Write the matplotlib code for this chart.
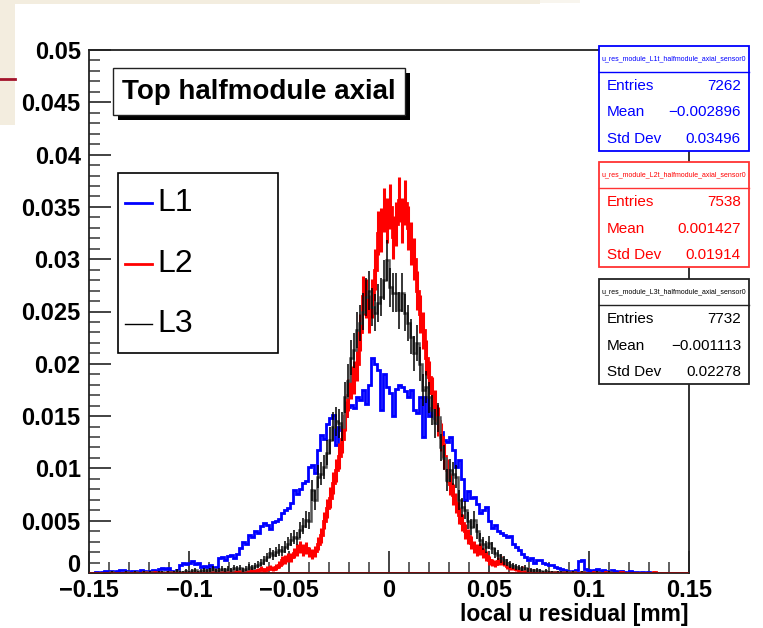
import numpy as np
import matplotlib
matplotlib.use("Agg")
import matplotlib.pyplot as plt
import matplotlib.transforms as mtransforms
from matplotlib.patches import Rectangle
from matplotlib.lines import Line2D

plt.rcParams['font.family'] = ['Liberation Sans', 'DejaVu Sans']

# 200 bins from -0.15 to 0.15, normalised bin contents in units of 1e-4
x_lo, x_hi, n_bins = -0.15, 0.15, 200

L1 = [0, 0, 1, 0, 1, 2, 1, 2, 1, 2,
      3, 3, 2, 1, 2, 2, 1, 3, 2, 1,
      2, 3, 2, 4, 5, 4, 5, 2, 1, 3,
      8, 10, 9, 10, 11, 9, 10, 6, 7, 6,
      8, 5, 6, 14, 15, 12, 16, 17, 14, 18,
      24, 30, 28, 36, 34, 40, 38, 45, 48, 46,
      42, 49, 50, 52, 57, 60, 62, 67, 79, 76,
      80, 86, 88, 101, 103, 96, 118, 132, 128, 142,
      148, 151, 122, 140, 137, 150, 159, 161, 158, 168,
      165, 175, 162, 180, 206, 200, 194, 156, 190, 178,
      172, 150, 176, 180, 178, 174, 168, 175, 156, 153,
      168, 130, 168, 150, 158, 148, 143, 135, 127, 125,
      130, 118, 101, 108, 90, 70, 78, 72, 73, 66,
      57, 60, 63, 50, 43, 46, 40, 38, 36, 34,
      35, 28, 25, 22, 18, 15, 12, 14, 10, 12,
      12, 10, 9, 8, 8, 6, 5, 4, 3, 2,
      1, 2, 3, 11, 12, 4, 3, 2, 3, 4,
      2, 3, 2, 1, 3, 2, 1, 2, 1, 0,
      2, 1, 1, 0, 1, 0, 1, 0, 0, 0,
      0, 0, 0, 0, 0, 0, 0, 0, 0, 0]

L2 = [0, 0, 0, 0, 0, 0, 0, 0, 0, 0,
      0, 0, 0, 0, 0, 0, 0, 0, 1, 0,
      0, 1, 0, 1, 0, 0, 1, 0, 1, 1,
      0, 0, 1, 0, 1, 0, 1, 1, 0, 1,
      2, 3, 2, 1, 1, 2, 1, 2, 1, 2,
      2, 1, 2, 3, 2, 2, 3, 4, 3, 4,
      5, 4, 6, 8, 12, 13, 15, 15, 19, 22,
      25, 22, 24, 20, 18, 21, 28, 36, 50, 62,
      72, 86, 98, 112, 128, 150, 170, 182, 187, 200,
      230, 265, 262, 248, 262, 290, 325, 328, 347, 337,
      350, 321, 334, 357, 337, 354, 330, 315, 300, 270,
      248, 232, 206, 187, 172, 160, 145, 130, 112, 98,
      85, 75, 67, 55, 48, 40, 35, 29, 25, 22,
      23, 19, 16, 12, 10, 9, 11, 12, 10, 7,
      6, 5, 4, 3, 4, 2, 3, 2, 2, 1,
      1, 0, 1, 1, 0, 1, 0, 0, 1, 0,
      0, 1, 0, 0, 1, 0, 0, 0, 1, 0,
      0, 0, 1, 0, 0, 0, 0, 1, 0, 0,
      0, 0, 0, 0, 0, 0, 0, 0, 1, 0,
      0, 0, 0, 0, 0, 0, 0, 0, 0, 0]

L3 = [0, 0, 0, 0, 0, 0, 0, 1, 0, 0,
      0, 0, 1, 0, 0, 1, 0, 0, 1, 0,
      1, 0, 0, 1, 1, 0, 1, 0, 1, 2,
      1, 1, 2, 1, 2, 3, 1, 2, 3, 2,
      3, 4, 2, 3, 4, 3, 4, 3, 5, 4,
      5, 3, 4, 6, 5, 7, 8, 10, 12, 15,
      19, 17, 20, 22, 21, 25, 28, 32, 34, 33,
      41, 45, 51, 50, 79, 70, 92, 95, 101, 115,
      127, 140, 145, 143, 140, 168, 184, 206, 213, 232,
      239, 250, 264, 270, 254, 249, 258, 264, 280, 299,
      273, 268, 268, 251, 268, 249, 239, 226, 210, 220,
      200, 175, 178, 168, 156, 143, 149, 120, 110, 89,
      98, 95, 92, 70, 63, 60, 50, 44, 51, 40,
      32, 28, 25, 29, 24, 19, 17, 14, 12, 10,
      8, 7, 6, 5, 4, 5, 3, 3, 2, 3,
      2, 1, 2, 1, 1, 0, 1, 1, 0, 1,
      0, 1, 0, 0, 1, 0, 0, 0, 0, 1,
      0, 0, 0, 1, 0, 0, 0, 0, 0, 0,
      0, 0, 0, 0, 0, 0, 0, 0, 0, 0,
      0, 0, 0, 0, 0, 0, 0, 0, 0, 0]

names = ['u_res_module_L1t_halfmodule_axial_sensor0',
         'u_res_module_L2t_halfmodule_axial_sensor0',
         'u_res_module_L3t_halfmodule_axial_sensor0']
entries = [7262, 7538, 7732]
means = ['\u22120.002896', '0.001427', '\u22120.001113']
stds = ['0.03496', '0.01914', '0.02278']
leg_labels = ['L1', 'L2', 'L3']

yticks = [0, 0.005, 0.01, 0.015, 0.02, 0.025, 0.03, 0.035, 0.04, 0.045, 0.05]
ytick_labels = ['0', '0.005', '0.01', '0.015', '0.02', '0.025', '0.03',
                '0.035', '0.04', '0.045', '0.05']
xticks = [-0.15, -0.1, -0.05, 0, 0.05, 0.1, 0.15]
xtick_labels = ['\u22120.15', '\u22120.1', '\u22120.05', '0', '0.05', '0.1', '0.15']

W, H = 763, 628


def fx(px):
    return px / W


def fy(py):
    return 1 - py / H


fig = plt.figure(figsize=(W / 100, H / 100), dpi=100)

# screenshot leftovers in the corner
fig.patches.append(Rectangle((0, fy(125)), fx(15), 125 / H, transform=fig.transFigure,
                             facecolor='#f3eddf', edgecolor='none', zorder=0))
fig.patches.append(Rectangle((0, fy(4)), fx(540), 4 / H, transform=fig.transFigure,
                             facecolor='#f3eddf', edgecolor='none', zorder=0))
fig.patches.append(Rectangle((fx(540), fy(3)), fx(40), 3 / H, transform=fig.transFigure,
                             facecolor='#f8f5ee', edgecolor='none', zorder=0))
fig.add_artist(Line2D([0, fx(15)], [fy(79), fy(79)], transform=fig.transFigure,
                      color='#a3132b', lw=2))

ax = fig.add_axes([fx(89), 55 / H, 600 / W, 523 / H])

edges = np.linspace(x_lo, x_hi, n_bins + 1)
centers = 0.5 * (edges[:-1] + edges[1:])
v1 = np.array(L1) / 1e4
v2 = np.array(L2) / 1e4
v3 = np.array(L3) / 1e4

ax.stairs(v1, edges, color='#0000ff', lw=2, zorder=3)

ax.stairs(v2, edges, color='#ff0000', lw=2, zorder=4)
m = v2 > 0
ax.errorbar(centers[m], v2[m], yerr=np.sqrt(v2[m] / entries[1]), fmt='none',
            ecolor='#ff0000', elinewidth=2.2, zorder=4)

ax.stairs(v3, edges, color='#555555', lw=1.8, zorder=5)
m = v3 > 0
ax.errorbar(centers[m], v3[m], yerr=np.sqrt(v3[m] / entries[2]), fmt='none',
            ecolor='black', elinewidth=1.1, zorder=5)

ax.axhline(0, color='#7a0a0a', lw=2, zorder=6)

ax.set_xlim(x_lo, x_hi)
ax.set_ylim(0, 0.05)
ax.set_xticks(xticks)
ax.set_xticklabels(xtick_labels, fontsize=17, fontweight='bold')
ax.set_yticks(yticks)
ax.set_yticklabels(ytick_labels, fontsize=17, fontweight='bold')
ax.set_xticks(np.arange(-0.15, 0.1501, 0.01), minor=True)
ax.set_yticks(np.arange(0, 0.0501, 0.001), minor=True)
ax.tick_params(which='major', direction='in', length=16, width=1.2, color='#222222',
               top=False, right=False)
ax.tick_params(axis='x', which='major', pad=4)
ax.tick_params(axis='y', which='major', pad=6)
ax.tick_params(which='minor', direction='in', length=8, width=1.2, color='#444444',
               top=False, right=False)
ax.set_xlabel('local u residual [mm]', fontsize=16.5, fontweight='bold',
              ha='right', va='center')
ax.xaxis.set_label_coords(1.0, -41 / 523)
for s in ax.spines.values():
    s.set_linewidth(1.3)
    s.set_color('#222222')

# lift the "0" on the y axis a little so it clears the first x label
zero_lbl = ax.get_yticklabels()[0]
zero_lbl.set_transform(zero_lbl.get_transform() +
                       mtransforms.ScaledTranslation(0, 10 / 100, fig.dpi_scale_trans))

# title box with shadow
fig.patches.append(Rectangle((fx(118), fy(120)), 292 / W, 47 / H, transform=fig.transFigure,
                             facecolor='black', edgecolor='none', zorder=10))
fig.patches.append(Rectangle((fx(113), fy(115)), 292 / W, 47 / H, transform=fig.transFigure,
                             facecolor='white', edgecolor='#222222', lw=1, zorder=11))
fig.text(fx(259), fy(92), 'Top halfmodule axial', fontsize=20, fontweight='bold',
         ha='center', va='center', zorder=12)

# legend
fig.patches.append(Rectangle((fx(118), fy(353)), 160 / W, 180 / H, transform=fig.transFigure,
                             facecolor='white', edgecolor='black', lw=1.2, zorder=10))
leg_colors = ['#0000ff', '#ff0000', 'black']
leg_widths = [2, 2, 1]
leg_y = [203, 264, 324]
for lab, c, lw, yy in zip(leg_labels, leg_colors, leg_widths, leg_y):
    fig.add_artist(Line2D([fx(125), fx(152)], [fy(yy), fy(yy)], transform=fig.transFigure,
                          color=c, lw=lw, zorder=11))
    fig.text(fx(157), fy(yy), lab, fontsize=23, ha='left', va='center', zorder=12)

# stat boxes
box_top = [46, 162, 279]
box_cols = ['#0000ff', '#ff3333', '#222222']
txt_cols = ['#0000ff', '#ff0000', 'black']
for k in range(3):
    t = box_top[k]
    fig.patches.append(Rectangle((fx(599), fy(t + 105)), 150 / W, 105 / H,
                                 transform=fig.transFigure, facecolor='white',
                                 edgecolor=box_cols[k], lw=1.3, zorder=10))
    fig.add_artist(Line2D([fx(599), fx(749)], [fy(t + 26), fy(t + 26)],
                          transform=fig.transFigure, color=box_cols[k], lw=1, zorder=11))
    fig.text(fx(674), fy(t + 13), names[k], fontsize=5, color=txt_cols[k],
             ha='center', va='center', zorder=12)
    rows = [('Entries', str(entries[k])), ('Mean', means[k]), ('Std Dev', stds[k])]
    for j, (lab, val) in enumerate(rows):
        yy = t + 40 + 26.5 * j
        fig.text(fx(607), fy(yy), lab, fontsize=11, color=txt_cols[k],
                 ha='left', va='center', zorder=12)
        fig.text(fx(741), fy(yy), val, fontsize=11, color=txt_cols[k],
                 ha='right', va='center', zorder=12)

fig.savefig('out.png', dpi=100)
